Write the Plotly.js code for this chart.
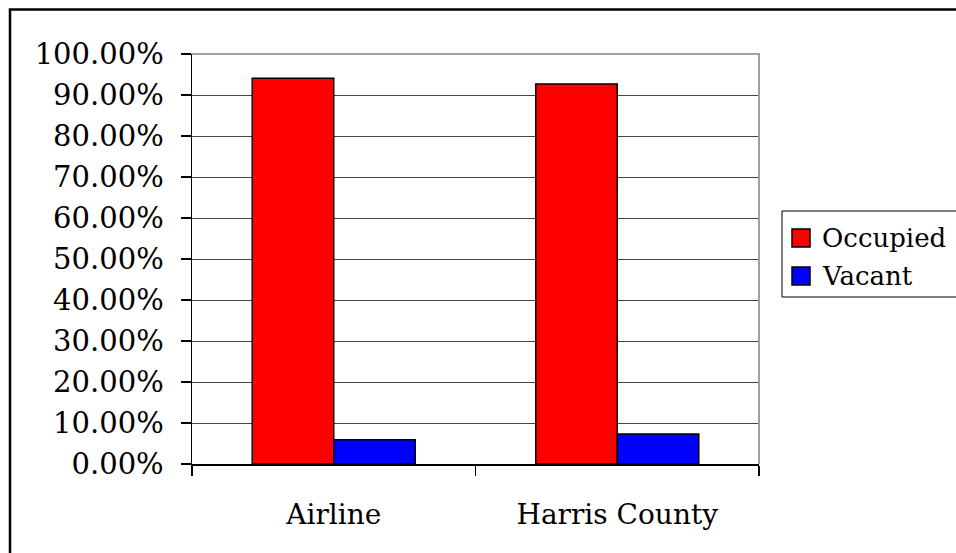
<!DOCTYPE html>
<html>
<head>
<meta charset="utf-8">
<script src="https://cdn.plot.ly/plotly-3.0.1.min.js"></script>
<style>
  html, body { margin: 0; padding: 0; background: #fff; }
  #chart { width: 956px; height: 553px; }
</style>
</head>
<body>
<div id="chart"></div>
<script>
const categories = ['Airline', 'Harris County'];
const occupied = [0.941, 0.927];
const vacant = [0.059, 0.073];
const seriesNames = ['Occupied', 'Vacant'];
const seriesColors = ['#FF0000', '#0000FF'];
const yTickValues = [0, 0.1, 0.2, 0.3, 0.4, 0.5, 0.6, 0.7, 0.8, 0.9, 1.0];

const FONT = 'DejaVu Serif, Liberation Serif, serif';

// plot area in pixels
const PL = 192, PR = 759, PT = 54, PB = 464;
const W = 956, H = 553;
const px = v => (v - PL) / (PR - PL);
const py = v => (PB - v) / (PB - PT);

const traces = [
  {
    type: 'bar', name: seriesNames[0], x: categories, y: occupied,
    marker: { color: seriesColors[0], line: { color: '#000000', width: 1.5 } }
  },
  {
    type: 'bar', name: seriesNames[1], x: categories, y: vacant,
    marker: { color: seriesColors[1], line: { color: '#000000', width: 1.5 } }
  }
];

const legendShapes = [
  { type: 'rect', xref: 'paper', yref: 'paper',
    x0: px(782), x1: px(962), y0: py(297), y1: py(211),
    line: { color: '#000', width: 1 }, fillcolor: '#fff', layer: 'above' },
  { type: 'rect', xref: 'paper', yref: 'paper',
    x0: px(792), x1: px(810), y0: py(247), y1: py(229),
    line: { color: '#000', width: 1.5 }, fillcolor: seriesColors[0], layer: 'above' },
  { type: 'rect', xref: 'paper', yref: 'paper',
    x0: px(792), x1: px(810), y0: py(285), y1: py(267),
    line: { color: '#000', width: 1.5 }, fillcolor: seriesColors[1], layer: 'above' }
];

const legendAnnotations = [
  { xref: 'paper', yref: 'paper', x: px(820), y: py(238), xanchor: 'left', yanchor: 'middle',
    text: seriesNames[0], showarrow: false, font: { family: FONT, size: 26, color: '#000' } },
  { xref: 'paper', yref: 'paper', x: px(820), y: py(276), xanchor: 'left', yanchor: 'middle',
    text: seriesNames[1], showarrow: false, font: { family: FONT, size: 26, color: '#000' } }
];

const layout = {
  width: W, height: H,
  margin: { l: PL, r: W - PR, t: PT, b: H - PB },
  paper_bgcolor: '#ffffff', plot_bgcolor: '#ffffff',
  font: { family: FONT, size: 28, color: '#000000' },
  barmode: 'group',
  bargap: 0.425,
  bargroupgap: 0,
  showlegend: false,
  xaxis: {
    type: 'category',
    showline: true, linecolor: '#000', linewidth: 1.5,
    ticks: 'outside', tickson: 'boundaries', ticklen: 10, tickcolor: '#000', tickwidth: 1.5,
    ticklabelstandoff: 25,
    showgrid: false, zeroline: false,
    tickfont: { family: FONT, size: 28, color: '#000' }
  },
  yaxis: {
    range: [0, 1],
    tickvals: yTickValues,
    tickformat: '.2%',
    showline: true, linecolor: '#000', linewidth: 1.5,
    ticks: 'outside', ticklen: 10, tickcolor: '#000', tickwidth: 1.5,
    ticklabelstandoff: 11,
    showgrid: true, gridcolor: '#444444', gridwidth: 1,
    zeroline: false,
    tickfont: { family: FONT, size: 29, color: '#000' }
  },
  shapes: [
    { type: 'path', xref: 'paper', yref: 'paper', path: 'M0,1 L1,1 L1,0',
      line: { color: '#a0a0a0', width: 2 }, layer: 'above' },
    { type: 'rect', xref: 'paper', yref: 'paper',
      x0: px(10), x1: px(975), y0: py(575), y1: py(9.5),
      line: { color: '#000000', width: 2.5 }, fillcolor: 'rgba(0,0,0,0)', layer: 'above' }
  ].concat(legendShapes),
  annotations: legendAnnotations
};

Plotly.newPlot('chart', traces, layout, { displayModeBar: false, staticPlot: true });
</script>
</body>
</html>
